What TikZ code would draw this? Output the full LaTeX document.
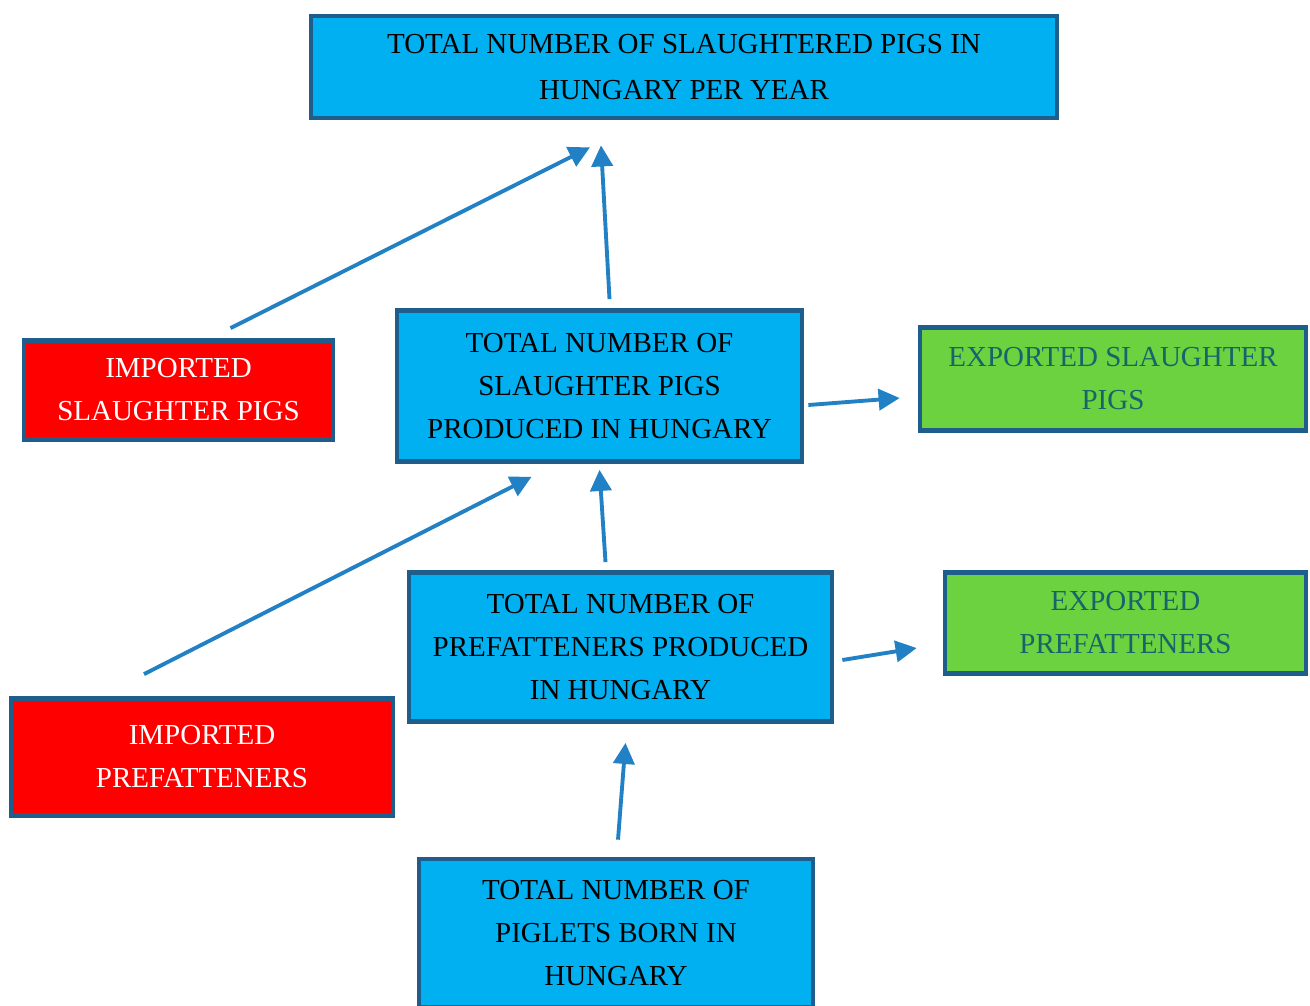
\documentclass[tikz,border=0pt]{standalone}
\usepackage{fontspec}
\setmainfont{Liberation Serif}
\usetikzlibrary{arrows.meta,calc}
\definecolor{boxblue}{HTML}{00B0F0}
\definecolor{boxred}{HTML}{FF0000}
\definecolor{boxgreen}{HTML}{6CD23F}
\definecolor{borderblue}{HTML}{1F5E8C}
\definecolor{arrowblue}{HTML}{2281C4}
\definecolor{greentext}{HTML}{17656B}

\begin{document}
\begin{tikzpicture}[
    x=0.02cm, y=-0.02cm,
    every node/.style={font=\fontsize{16.5}{24.5}\selectfont},
    box/.style={
        draw=borderblue,
        line width=2.7pt,
        align=center,
        inner sep=2pt
    },
    bluebox/.style={box, fill=boxblue, text=black},
    redbox/.style={box, fill=boxred, text=white},
    greenbox/.style={box, fill=boxgreen, text=greentext},
    flow/.style={-{Triangle[length=12pt,width=12pt]}, line width=2.2pt, arrowblue}
]
\useasboundingbox (0,0) rectangle (1310,1005);

\node[bluebox, minimum width=14.92cm, minimum height=2.04cm,
      font=\fontsize{16.5}{26}\selectfont] (total) at (684,67)
    {TOTAL NUMBER OF SLAUGHTERED PIGS IN\\HUNGARY PER YEAR};
\node[redbox, minimum width=6.18cm, minimum height=1.98cm] (impslaughter) at (178.5,390)
    {IMPORTED\\SLAUGHTER PIGS};
\node[bluebox, minimum width=8.1cm, minimum height=3.02cm] (slaughter) at (599.5,386)
    {TOTAL NUMBER OF\\SLAUGHTER PIGS\\PRODUCED IN HUNGARY};
\node[greenbox, minimum width=7.72cm, minimum height=2.06cm] (expslaughter) at (1113,379)
    {EXPORTED SLAUGHTER\\PIGS};
\node[bluebox, minimum width=8.46cm, minimum height=2.98cm] (prefat) at (620.5,647)
    {TOTAL NUMBER OF\\PREFATTENERS PRODUCED\\IN HUNGARY};
\node[greenbox, minimum width=7.22cm, minimum height=2.02cm] (expprefat) at (1125.5,623)
    {EXPORTED\\PREFATTENERS};
\node[redbox, minimum width=7.64cm, minimum height=2.34cm] (impprefat) at (202,757)
    {IMPORTED\\PREFATTENERS};
\node[bluebox, minimum width=7.88cm, minimum height=2.96cm] (piglets) at (616,933)
    {TOTAL NUMBER OF\\PIGLETS BORN IN\\HUNGARY};

% arrows
\draw[flow] ([shift={(52,-10)}]impslaughter.north) -- ([shift={(-94,27)}]total.south);
\draw[flow] ([shift={(10,-9)}]slaughter.north) -- ([shift={(-83,25)}]total.south);
\draw[flow] ([shift={(4,19)}]slaughter.east) -- ([shift={(-18,19)}]expslaughter.west);
\draw[flow] ([shift={(-58,-22)}]impprefat.north) -- ([shift={(-68,13)}]slaughter.south);
\draw[flow] ([shift={(-15,-8)}]prefat.north) -- ([shift={(0,6)}]slaughter.south);
\draw[flow] ([shift={(8,13)}]prefat.east) -- ([shift={(-26,25)}]expprefat.west);
\draw[flow] ([shift={(2,-17)}]piglets.north) -- ([shift={(5,19)}]prefat.south);

\end{tikzpicture}
\end{document}
